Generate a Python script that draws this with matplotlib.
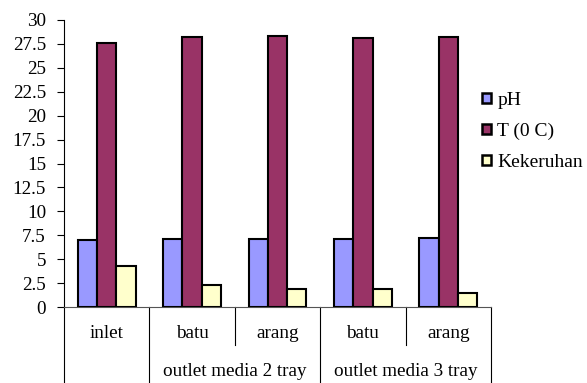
import numpy as np
import matplotlib.pyplot as plt
from matplotlib.patches import Patch

plt.rcParams['font.family'] = ['Liberation Serif', 'DejaVu Serif']

categories = ['inlet', 'batu', 'arang', 'batu', 'arang']
groups = ['outlet media 2 tray', 'outlet media 3 tray']
series = ['pH', 'T (0 C)', 'Kekeruhan']
ph = [7.0, 7.1, 7.15, 7.15, 7.25]
temp = [27.6, 28.2, 28.3, 28.1, 28.2]
kekeruhan = [4.25, 2.25, 1.85, 1.9, 1.5]
colors = ['#9999FF', '#993366', '#FFFFCC']

fig = plt.figure(figsize=(5.87, 3.83), dpi=100)
ax = fig.add_axes([64 / 587, 76 / 383, 427 / 587, 287 / 383])

x = np.arange(len(categories))
w = 0.226
for i, (vals, c) in enumerate(zip([ph, temp, kekeruhan], colors)):
    ax.bar(x + (i - 1) * w, vals, w, color=c, edgecolor='black', linewidth=1.5,
           label=series[i], zorder=3)

ax.set_xlim(-0.5, len(categories) - 0.5)
ax.set_ylim(0, 30)
ax.set_yticks(np.arange(0, 30.1, 2.5))
ax.set_yticklabels(['%g' % v for v in np.arange(0, 30.1, 2.5)])
ax.tick_params(axis='y', labelsize=13.8, length=5, width=0.8, pad=8)
ax.set_xticks([])
for s in ['top', 'right']:
    ax.spines[s].set_visible(False)
ax.spines['left'].set_linewidth(0.8)
ax.spines['bottom'].set_linewidth(0.8)
ax.spines['bottom'].set_color('#555555')

# category axis: separators and labels below the plot
trans = ax.get_xaxis_transform()
full = -76 / 287
half = -38 / 287
for xs, y0 in [(-0.5, full), (0.5, full), (1.5, half), (2.5, full), (3.5, half), (4.5, full)]:
    ax.plot([xs, xs], [0, y0], transform=trans, color='black', lw=0.8, clip_on=False)
for xi, name in zip(x, categories):
    ax.text(xi, -26 / 287, name, transform=trans, ha='center', va='center', fontsize=13.8)
for gx, name in zip([1.5, 3.5], groups):
    ax.text(gx, -65 / 287, name, transform=trans, ha='center', va='center', fontsize=13.8)

handles = [Patch(facecolor=c, edgecolor='black', linewidth=1.8) for c in colors]
fig.legend(handles, series, loc='upper left', bbox_to_anchor=(474 / 587, 1 - 84 / 383),
           frameon=False, fontsize=14, handlelength=0.45, handleheight=0.45,
           handletextpad=0.35, labelspacing=0.72, borderaxespad=0)

fig.savefig('out.png', dpi=100)
